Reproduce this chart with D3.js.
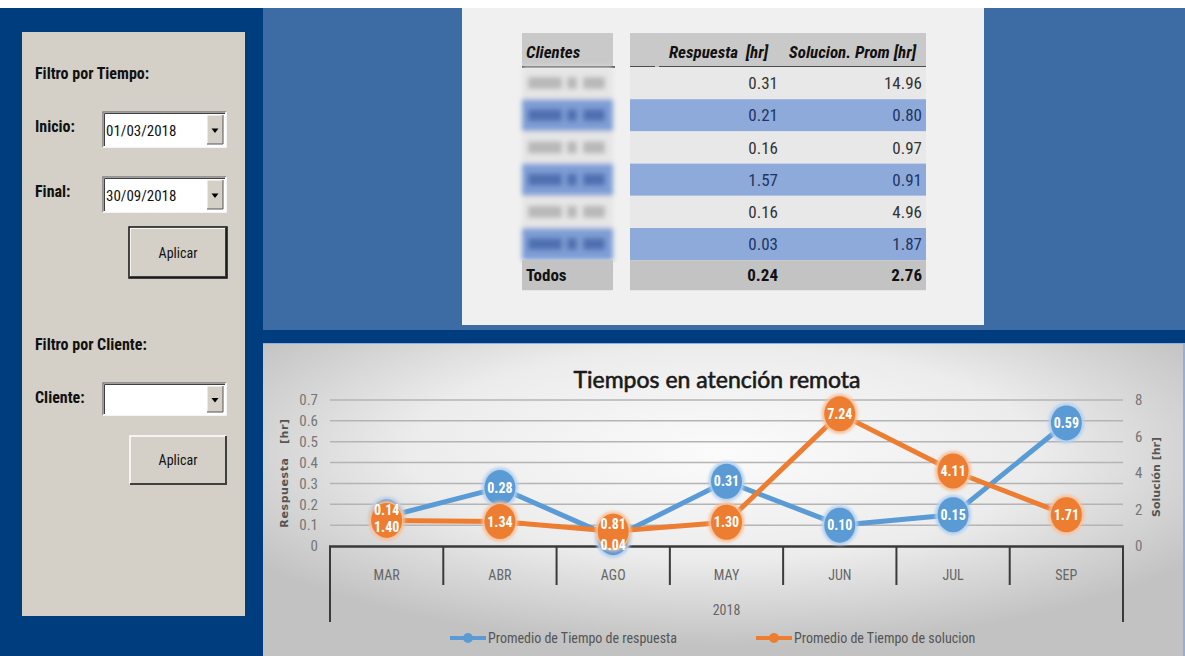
<!DOCTYPE html>
<html><head><meta charset="utf-8">
<script src="https://cdn.jsdelivr.net/npm/d3@7"></script>
<style>html,body{margin:0;padding:0;background:#003d7f;overflow:hidden}</style>
</head><body>
<svg id="dash" width="1185" height="656"></svg>
<script>
// ---- data ----
const categories = ["MAR", "ABR", "AGO", "MAY", "JUN", "JUL", "SEP"];
const respuesta = [0.14, 0.28, 0.04, 0.31, 0.10, 0.15, 0.59];
const solucion = [1.40, 1.34, 0.81, 1.30, 7.24, 4.11, 1.71];
const leftTicks = [0, 0.1, 0.2, 0.3, 0.4, 0.5, 0.6, 0.7];
const rightTicks = [0, 2, 4, 6, 8];
const yearLabel = "2018";
const seriesNames = ["Promedio de Tiempo de respuesta", "Promedio de Tiempo de solucion"];

const tablaRespuesta = [0.31, 0.21, 0.16, 1.57, 0.16, 0.03];
const tablaSolucion = [14.96, 0.80, 0.97, 0.91, 4.96, 1.87];
const totalRespuesta = 0.24;
const totalSolucion = 2.76;

const fechaInicio = "01/03/2018";
const fechaFinal = "30/09/2018";

// ---- styles ----
const NARROW = "'Liberation Sans Narrow','Arial Narrow','Roboto Condensed',sans-serif";
const C_DARK = "#003d7f", C_MID = "#3d6ca5", C_PANEL = "#d4d0c8";
const C_BLUE = "#5b9bd5", C_ORANGE = "#ed7d31";

const svg = d3.select("#dash");
const defs = svg.append("defs");

// page background
svg.append("rect").attr("width", 1185).attr("height", 656).attr("fill", C_DARK);
svg.append("rect").attr("width", 1185).attr("height", 8).attr("fill", "#ffffff");
svg.append("rect").attr("x", 263).attr("y", 8).attr("width", 922).attr("height", 322).attr("fill", C_MID);

// ---- left filter panel ----
const panel = svg.append("g");
panel.append("rect").attr("x", 22).attr("y", 32).attr("width", 223).attr("height", 584).attr("fill", C_PANEL);

function label(g, x, y, t, size, weight) {
  return g.append("text").attr("x", x).attr("y", y).text(t)
    .attr("font-family", NARROW).attr("font-size", size).attr("font-weight", weight || "bold")
    .attr("fill", "#111");
}
function combo(g, x, y, w, h, value) {
  g.append("rect").attr("x", x).attr("y", y).attr("width", w).attr("height", h).attr("fill", "#fff");
  g.append("path").attr("d", `M${x},${y + h}V${y}H${x + w}`).attr("stroke", "#808080").attr("stroke-width", 1.5).attr("fill", "none");
  g.append("path").attr("d", `M${x + 1.5},${y + h - 1}V${y + 1.5}H${x + w - 1}`).attr("stroke", "#404040").attr("stroke-width", 1).attr("fill", "none");
  g.append("path").attr("d", `M${x},${y + h}H${x + w}V${y}`).attr("stroke", "#fff").attr("stroke-width", 1.5).attr("fill", "none");
  const bx = x + w - 19, by = y + 3, bw = 16, bh = h - 6;
  g.append("rect").attr("x", bx).attr("y", by).attr("width", bw).attr("height", bh).attr("fill", C_PANEL);
  g.append("path").attr("d", `M${bx},${by + bh}V${by}H${bx + bw}`).attr("stroke", "#fff").attr("fill", "none");
  g.append("path").attr("d", `M${bx},${by + bh}H${bx + bw}V${by}`).attr("stroke", "#555").attr("fill", "none");
  const cx = bx + bw / 2, cy = by + bh / 2 + 1;
  g.append("path").attr("d", `M${cx - 3.5},${cy - 2}H${cx + 3.5}L${cx},${cy + 2.5}Z`).attr("fill", "#000");
  if (value) label(g, x + 3, y + h / 2 + 6, value, 15, "normal");
}
function button(g, x, y, w, h, t, focused) {
  g.append("rect").attr("x", x).attr("y", y).attr("width", w).attr("height", h).attr("fill", C_PANEL);
  g.append("path").attr("d", `M${x + 1},${y + h - 1}V${y + 1}H${x + w - 1}`).attr("stroke", "#fff").attr("stroke-width", 1.5).attr("fill", "none");
  g.append("path").attr("d", `M${x + 1},${y + h - 1}H${x + w - 1}V${y + 1}`).attr("stroke", "#404040").attr("stroke-width", 2).attr("fill", "none");
  if (focused) g.append("rect").attr("x", x).attr("y", y).attr("width", w).attr("height", h).attr("fill", "none").attr("stroke", "#111").attr("stroke-width", 1.5);
  label(g, x + w / 2, y + h / 2 + 5, t, 14, "normal").attr("text-anchor", "middle");
}

label(panel, 35, 79, "Filtro por Tiempo:", 16);
label(panel, 35, 132, "Inicio:", 16);
combo(panel, 103, 112, 123, 35, fechaInicio);
label(panel, 35, 197, "Final:", 16);
combo(panel, 103, 177, 123, 35, fechaFinal);
button(panel, 129, 227, 98, 51, "Aplicar", true);
label(panel, 35, 350, "Filtro por Cliente:", 16);
label(panel, 35, 403, "Cliente:", 16);
combo(panel, 103, 383, 123, 32, "");
button(panel, 129, 435, 98, 50, "Aplicar", false);

// ---- summary table ----
const tab = svg.append("g");
tab.append("rect").attr("x", 462).attr("y", 8).attr("width", 522).attr("height", 317).attr("fill", "#f0f0f0");

const rowTop = 67, rowH = 32.2, nRows = tablaRespuesta.length;
const rowFill = i => (i % 2 ? "#8eaadb" : "#e8e8e8");

// header cells
tab.append("rect").attr("x", 522).attr("y", 33).attr("width", 91).attr("height", 34).attr("fill", "#c9c9c9");
tab.append("rect").attr("x", 630).attr("y", 33).attr("width", 296).attr("height", 34).attr("fill", "#c9c9c9");
tab.append("line").attr("x1", 522).attr("x2", 615).attr("y1", 67).attr("y2", 67).attr("stroke", "#222").attr("stroke-width", 1.5);
tab.append("line").attr("x1", 630).attr("x2", 655).attr("y1", 67).attr("y2", 67).attr("stroke", "#222").attr("stroke-width", 1.5);
tab.append("line").attr("x1", 659).attr("x2", 926).attr("y1", 67).attr("y2", 67).attr("stroke", "#222").attr("stroke-width", 1.5);

function hdr(x, y, t, anchor) {
  return tab.append("text").attr("x", x).attr("y", y).text(t).attr("text-anchor", anchor)
    .attr("font-family", NARROW).attr("font-size", 17).attr("font-weight", "bold").attr("font-style", "italic")
    .attr("fill", "#111");
}
hdr(526, 58, "Clientes", "start");
hdr(768, 58, "Respuesta  [hr]", "end").attr("xml:space", "preserve");
hdr(916, 58, "Solucion. Prom [hr]", "end");

// blurred client column
defs.append("filter").attr("id", "blurCol").attr("x", "-10%").attr("y", "-10%").attr("width", "120%").attr("height", "120%")
  .append("feGaussianBlur").attr("stdDeviation", 2.6);
const blurCol = tab.append("g").attr("filter", "url(#blurCol)");
d3.range(nRows).forEach(i => {
  const y = rowTop + i * rowH;
  blurCol.append("rect").attr("x", 522).attr("y", y).attr("width", 91).attr("height", rowH)
    .attr("fill", i % 2 ? "#7f9ed6" : "#e6e6e6");
  const ink = i % 2 ? "#4f6fb0" : "#b8b8b8";
  [[528, 34], [567, 10], [583, 22]].forEach(([bx, bw]) =>
    blurCol.append("rect").attr("x", bx).attr("y", y + 10).attr("width", bw).attr("height", 12).attr("fill", ink));
});

// value rows
const fmt = d3.format(".2f");
d3.range(nRows).forEach(i => {
  const y = rowTop + i * rowH;
  tab.append("rect").attr("x", 630).attr("y", y).attr("width", 296).attr("height", rowH).attr("fill", rowFill(i));
  const col = i % 2 ? "#1f3560" : "#333";
  [[778, tablaRespuesta[i]], [922, tablaSolucion[i]]].forEach(([x, v]) =>
    tab.append("text").attr("x", x).attr("y", y + rowH / 2 + 6).text(fmt(v)).attr("text-anchor", "end")
      .attr("font-family", NARROW).attr("font-size", 17).attr("fill", col));
});
const totY = rowTop + nRows * rowH;
tab.append("rect").attr("x", 522).attr("y", totY).attr("width", 91).attr("height", 30).attr("fill", "#c3c3c3");
tab.append("rect").attr("x", 630).attr("y", totY).attr("width", 296).attr("height", 30).attr("fill", "#c3c3c3");
[[526, "Todos", "start"], [778, fmt(totalRespuesta), "end"], [922, fmt(totalSolucion), "end"]].forEach(([x, t, a]) =>
  tab.append("text").attr("x", x).attr("y", totY + 21).text(t).attr("text-anchor", a)
    .attr("font-family", NARROW).attr("font-size", 17).attr("font-weight", "bold").attr("fill", "#111"));

// ---- chart ----
const grad = defs.append("radialGradient").attr("id", "chartBg").attr("cx", "50%").attr("cy", "35%").attr("r", "62%");
grad.append("stop").attr("offset", "0%").attr("stop-color", "#fbfbfb");
grad.append("stop").attr("offset", "55%").attr("stop-color", "#ececec");
grad.append("stop").attr("offset", "100%").attr("stop-color", "#c2c2c2");

svg.append("rect").attr("x", 263).attr("y", 343).attr("width", 920).attr("height", 313).attr("fill", "url(#chartBg)");
svg.append("line").attr("x1", 263).attr("x2", 1185).attr("y1", 343.5).attr("y2", 343.5).attr("stroke", "#8fb0d8");
svg.append("rect").attr("x", 1183).attr("y", 343).attr("width", 2).attr("height", 313).attr("fill", "#8fb0d8");

const chart = svg.append("g");
const x = d3.scaleBand().domain(categories).range([330, 1123]);
const yL = d3.scaleLinear().domain([0, 0.7]).range([546, 400]);
const yR = d3.scaleLinear().domain([0, 8]).range([546, 400]);

chart.append("text").attr("x", 717).attr("y", 388).attr("text-anchor", "middle")
  .text("Tiempos en atención remota").attr("font-family", "Lato,'Open Sans',sans-serif")
  .attr("font-size", 23).attr("font-weight", "normal").attr("fill", "#1a1a1a")
  .attr("stroke", "#1a1a1a").attr("stroke-width", 0.6);

// gridlines
chart.append("g").selectAll("line").data(leftTicks.filter(d => d > 0)).join("line")
  .attr("x1", 330).attr("x2", 1123).attr("y1", d => yL(d)).attr("y2", d => yL(d))
  .attr("stroke", "#b4b4b4").attr("stroke-width", 1.5);

// left axis
const axL = chart.append("g").attr("transform", "translate(320,0)")
  .call(d3.axisLeft(yL).tickValues(leftTicks).tickSize(0).tickPadding(2).tickFormat(d => d === 0 ? "0" : d3.format(".1f")(d)));
axL.select(".domain").remove();
axL.selectAll("text").attr("font-family", NARROW).attr("font-size", 15).attr("fill", "#777").attr("dy", "0.32em");

// right axis
const axR = chart.append("g").attr("transform", "translate(1133,0)")
  .call(d3.axisRight(yR).tickValues(rightTicks).tickSize(0).tickPadding(2).tickFormat(d3.format("d")));
axR.select(".domain").remove();
axR.selectAll("text").attr("font-family", NARROW).attr("font-size", 15).attr("fill", "#777").attr("dy", "0.32em");

// axis titles
chart.append("text").attr("transform", "translate(288,473) rotate(-90)").attr("text-anchor", "middle")
  .attr("xml:space", "preserve").text("Respuesta   [hr]").attr("font-family", "'DejaVu Sans',sans-serif")
  .attr("font-size", 11).attr("font-weight", "bold").attr("letter-spacing", 0.6).attr("fill", "#555");
chart.append("text").attr("transform", "translate(1160,477) rotate(-90)").attr("text-anchor", "middle")
  .attr("xml:space", "preserve").text("Solución [hr]").attr("font-family", "'DejaVu Sans',sans-serif")
  .attr("font-size", 11).attr("font-weight", "bold").attr("fill", "#555");

// category axis with dividers and year group
const bounds = categories.map(c => x(c)).concat([x.range()[1]]);
chart.append("g").selectAll("line").data(bounds).join("line")
  .attr("x1", d => d).attr("x2", d => d).attr("y1", 546)
  .attr("y2", (d, i) => (i === 0 || i === bounds.length - 1) ? 622 : 585)
  .attr("stroke", "#3a3a3a").attr("stroke-width", 2);
chart.append("line").attr("x1", 329).attr("x2", 1124).attr("y1", 546.5).attr("y2", 546.5).attr("stroke", "#3a3a3a").attr("stroke-width", 2.5);
chart.append("g").selectAll("text").data(categories).join("text")
  .attr("x", d => x(d) + x.bandwidth() / 2).attr("y", 580).attr("text-anchor", "middle").text(d => d)
  .attr("font-family", NARROW).attr("font-size", 14).attr("fill", "#666");
chart.append("text").attr("x", (x.range()[0] + x.range()[1]) / 2).attr("y", 615).attr("text-anchor", "middle")
  .text(yearLabel).attr("font-family", NARROW).attr("font-size", 14).attr("fill", "#666");

// series
defs.append("filter").attr("id", "glow").attr("x", "-50%").attr("y", "-50%").attr("width", "200%").attr("height", "200%")
  .append("feGaussianBlur").attr("stdDeviation", 1.8);

const series = [
  { name: seriesNames[0], vals: respuesta, y: yL, color: C_BLUE, halo: "#b3d0ef" },
  { name: seriesNames[1], vals: solucion, y: yR, color: C_ORANGE, halo: "#f7c09a" }
];
const cx = c => x(c) + x.bandwidth() / 2;

series.forEach(s => {
  const g = chart.append("g");
  const line = d3.line().x((d, i) => cx(categories[i])).y(d => s.y(d));
  g.append("path").datum(s.vals).attr("d", line).attr("fill", "none")
    .attr("stroke", s.color).attr("stroke-width", 5).attr("stroke-linejoin", "round");
  g.selectAll("ellipse.halo").data(s.vals).join("ellipse").attr("class", "halo")
    .attr("cx", (d, i) => cx(categories[i])).attr("cy", d => s.y(d)).attr("rx", 18).attr("ry", 20)
    .attr("fill", s.halo).attr("filter", "url(#glow)");
  g.selectAll("ellipse.dot").data(s.vals).join("ellipse").attr("class", "dot")
    .attr("cx", (d, i) => cx(categories[i])).attr("cy", d => s.y(d)).attr("rx", 15.5).attr("ry", 17.5)
    .attr("fill", s.color);
});

// data labels; where both series sit at the same spot, the higher point's label is nudged up
// and the lower one's down so the two values stay legible
series.forEach((s, k) => {
  const other = series[1 - k];
  chart.append("g").selectAll("text").data(s.vals).join("text")
    .attr("x", (d, i) => cx(categories[i]))
    .attr("y", (d, i) => {
      const py = s.y(d), oy = other.y(other.vals[i]);
      let shift = 0;
      if (Math.abs(py - oy) < 14) shift = py <= oy ? -7 : 7;
      return py + 5 + shift;
    })
    .attr("text-anchor", "middle")
    .text(d => fmt(d)).attr("font-family", NARROW).attr("font-size", 14).attr("font-weight", "bold").attr("fill", "#fff");
});

// legend
const legend = chart.append("g");
[[450, 0], [756, 1]].forEach(([lx, k]) => {
  const s = series[k];
  legend.append("line").attr("x1", lx).attr("x2", lx + 36).attr("y1", 638).attr("y2", 638)
    .attr("stroke", s.color).attr("stroke-width", 4);
  legend.append("ellipse").attr("cx", lx + 18).attr("cy", 638).attr("rx", 5).attr("ry", 5).attr("fill", s.color);
  legend.append("text").attr("x", lx + 38).attr("y", 643).text(s.name)
    .attr("font-family", NARROW).attr("font-size", 14).attr("fill", "#555");
});
</script>
</body></html>
